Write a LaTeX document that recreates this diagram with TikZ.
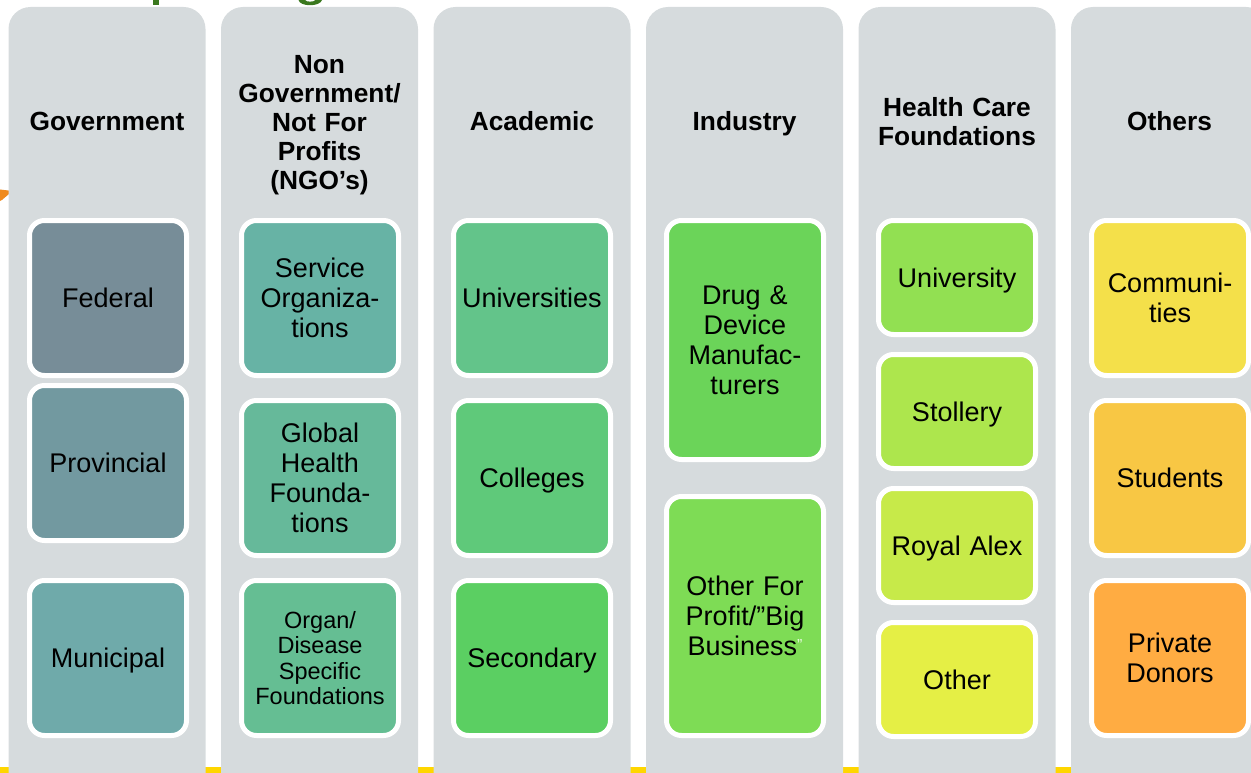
\documentclass[tikz,border=0pt]{standalone}
\usepackage{fontspec}
\setmainfont{Liberation Sans}

% panel and card colours
\definecolor{colgray}{RGB}{214,219,221}
\definecolor{bandyellow}{RGB}{255,214,0}
\definecolor{titlegreen}{RGB}{58,120,30}
\definecolor{arroworange}{RGB}{240,138,28}
\definecolor{cFederal}{RGB}{119,141,152}
\definecolor{cProvincial}{RGB}{114,153,160}
\definecolor{cMunicipal}{RGB}{111,170,170}
\definecolor{cService}{RGB}{103,179,165}
\definecolor{cGlobal}{RGB}{102,185,154}
\definecolor{cOrgan}{RGB}{101,190,147}
\definecolor{cUniversities}{RGB}{99,196,138}
\definecolor{cColleges}{RGB}{95,201,122}
\definecolor{cSecondary}{RGB}{91,207,98}
\definecolor{cDrug}{RGB}{107,212,89}
\definecolor{cBigBiz}{RGB}{126,220,85}
\definecolor{cUniversity}{RGB}{146,224,82}
\definecolor{cStollery}{RGB}{173,230,77}
\definecolor{cRoyalAlex}{RGB}{199,234,73}
\definecolor{cOther}{RGB}{229,239,69}
\definecolor{cCommunities}{RGB}{244,224,74}
\definecolor{cStudents}{RGB}{248,199,68}
\definecolor{cDonors}{RGB}{255,172,66}

\begin{document}
\begin{tikzpicture}[x=1pt,y=-1pt,
  panel/.style={fill=colgray, rounded corners=22pt},
  card/.style={draw=white, line width=5pt, rounded corners=15pt,
    minimum width=157pt, inner sep=0pt, align=center, text width=152pt,
    font=\fontsize{27}{30}\selectfont},
  head/.style={align=center, text width=190pt, inner sep=0pt,
    font=\bfseries\fontsize{26.3}{29}\selectfont},
  oneline/.style={text depth=0pt}
]
\useasboundingbox (0,0) rectangle (1251,773);
\clip (0,0) rectangle (1251,773);

% yellow band along the bottom edge
\fill[bandyellow] (0,767) rectangle (1251,773);

% descenders of the heading above
\fill[titlegreen] (152.5,0) rectangle (158.8,5);
\fill[titlegreen] (298.5,0) .. controls (300,7) and (320,7) .. (322,0)
  -- (315.5,0) .. controls (314,2.2) and (306,2.2) .. (305,0) -- cycle;

% orange arrow tip at the left edge
\fill[arroworange] (0,189.5) -- (12.5,191) -- (2,200) -- (0,201) -- cycle;

% the six category panels
\foreach \xl in {8.5,221,433.5,646,858.5,1071}
  \fill[panel] (\xl,7) rectangle ({\xl+197},820);

% panel headings
\node[head, oneline] (hGov)  at (107,121)    {Government};
\node[head] (hNGO)           at (319.5,125.5) {Non\\Government/\\Not For\\Profits\\(NGO’s)};
\node[head, oneline] (hAcad) at (532,121)    {Academic};
\node[head, oneline] (hInd)  at (744.5,121)  {Industry};
\node[head] (hHCF)           at (957,121.5)  {Health Care\\Foundations};
\node[head, oneline] (hOth)  at (1169.5,121) {Others};

% Government
\node[card, oneline, fill=cFederal,    minimum height=155pt] (federal)    at (108,298) {Federal};
\node[card, oneline, fill=cProvincial, minimum height=155pt] (provincial) at (108,463) {Provincial};
\node[card, oneline, fill=cMunicipal,  minimum height=155pt] (municipal)  at (108,658) {Municipal};

% NGOs
\node[card, fill=cService, minimum height=155pt] (service) at (320,298) {Service\\Organiza-\\tions};
\node[card, fill=cGlobal,  minimum height=155pt] (global)  at (320,478) {Global\\Health\\Founda-\\tions};
\node[card, fill=cOrgan,   minimum height=155pt,
      font=\fontsize{23.5}{25.3}\selectfont] (organ) at (320,658)
      {Organ/\\Disease\\Specific\\Foundations};

% Academic
\node[card, oneline, fill=cUniversities, minimum height=155pt] (univs)     at (532,298) {Universities};
\node[card, oneline, fill=cColleges,     minimum height=155pt] (colleges)  at (532,478) {Colleges};
\node[card, oneline, fill=cSecondary,    minimum height=155pt] (secondary) at (532,658) {Secondary};

% Industry
\node[card, fill=cDrug,   minimum height=239pt] (drug)   at (745,340) {Drug \&\\Device\\Manufac-\\turers};
\node[card, fill=cBigBiz, minimum height=239pt] (bigbiz) at (745,616)
  {Other For\\Profit/”Big\\Business\raisebox{0.2em}{\fontsize{16}{16}\selectfont\color{white!80!cBigBiz}”}};

% Health care foundations
\node[card, oneline, fill=cUniversity, minimum height=114pt] (hcfUniv)   at (957,277.5) {University};
\node[card, oneline, fill=cStollery,   minimum height=114pt] (stollery)  at (957,411.5) {Stollery};
\node[card, oneline, fill=cRoyalAlex,  minimum height=114pt] (royalalex) at (957,545.5) {Royal Alex};
\node[card, oneline, fill=cOther,      minimum height=114pt] (hcfOther)  at (957,679.5) {Other};

% Others
\node[card, fill=cCommunities, minimum height=155pt] (communities) at (1170,298) {Communi-\\ties};
\node[card, oneline, fill=cStudents, minimum height=155pt] (students) at (1170,478) {Students};
\node[card, fill=cDonors,      minimum height=155pt] (donors)      at (1170,658) {Private\\Donors};
\end{tikzpicture}
\end{document}
